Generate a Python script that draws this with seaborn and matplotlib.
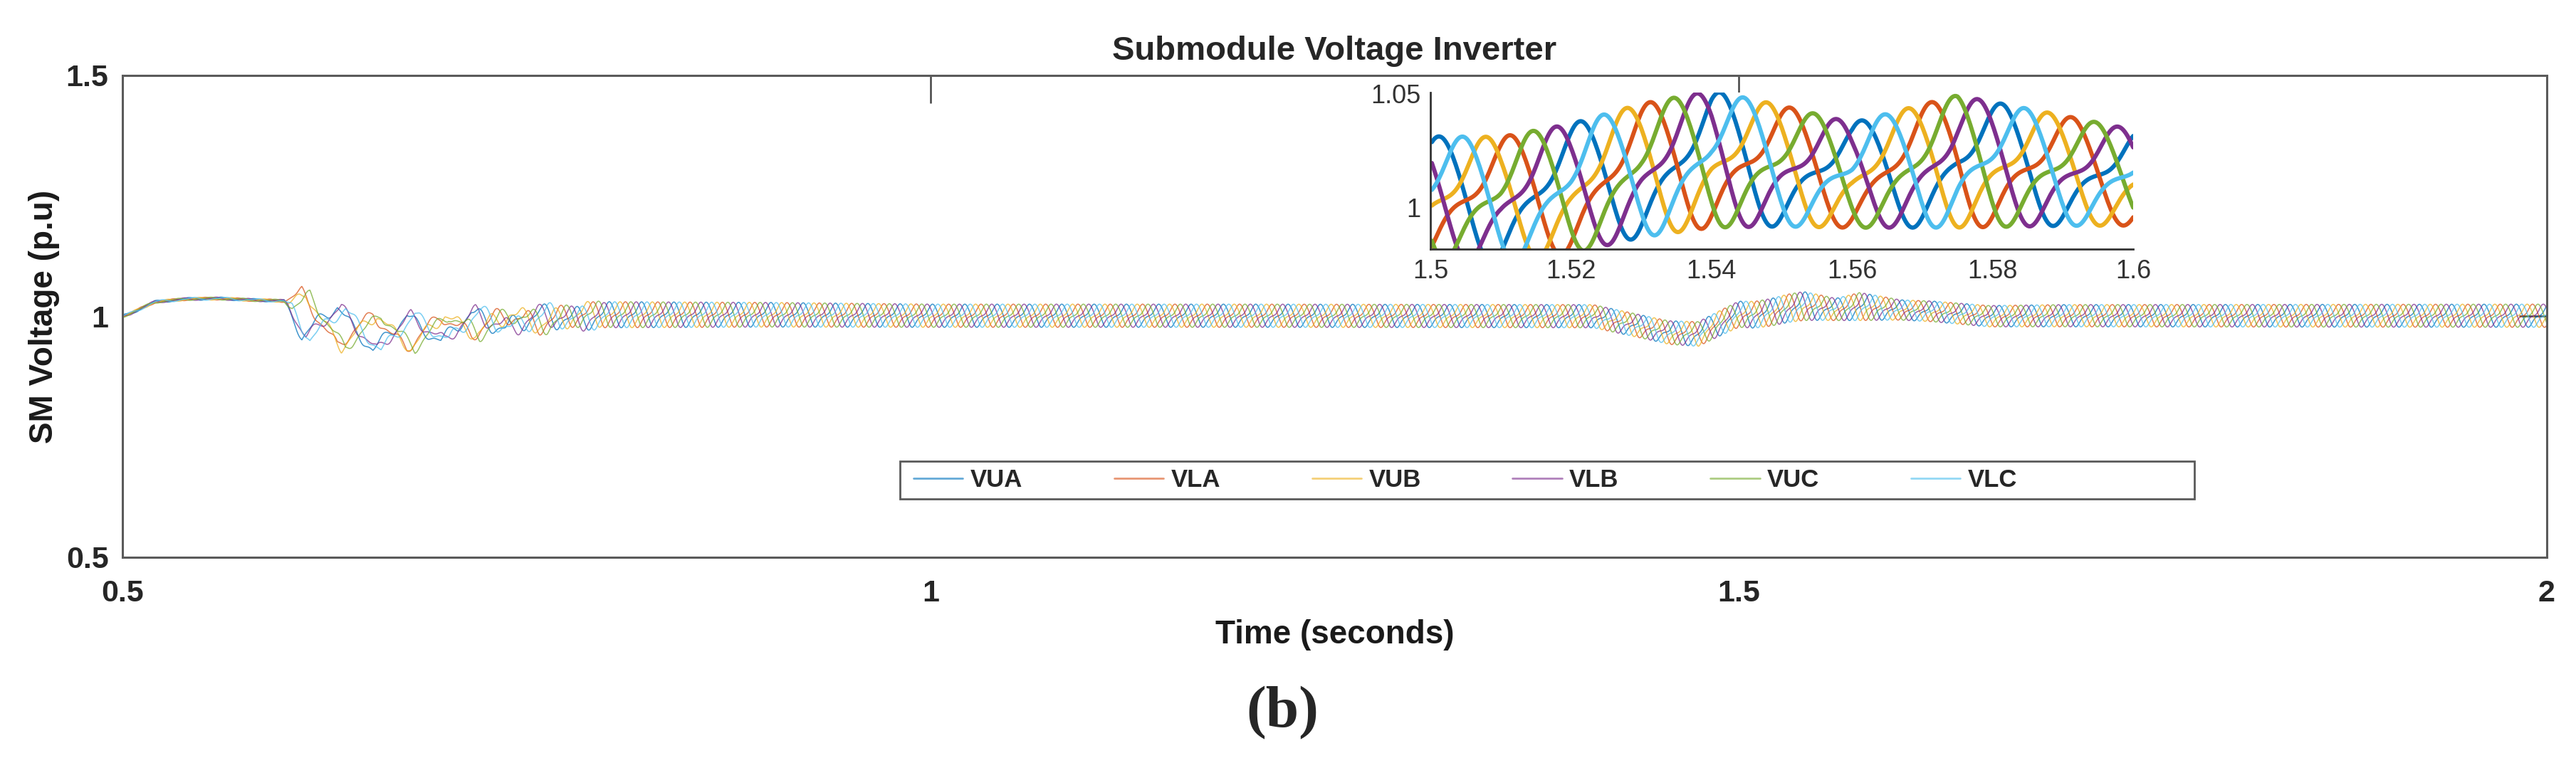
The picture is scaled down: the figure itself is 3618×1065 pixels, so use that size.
import numpy as np
import pandas as pd
import matplotlib

matplotlib.use("Agg")
import matplotlib.pyplot as plt
from matplotlib.patches import Rectangle
import seaborn as sns

# ----------------------------------------------------------------------
# Values
# ----------------------------------------------------------------------
SERIES = ["VUA", "VLA", "VUB", "VLB", "VUC", "VLC"]
COLORS = ["#0072BD", "#D95319", "#EDB120", "#7E2F8E", "#77AC30", "#4DBEEE"]

# lag of each arm's ripple peak behind VUA, in fractions of one cycle (inset)
PHASE_LAG = [0.0, 3 / 6, 2 / 6, 5 / 6, 4 / 6, 1 / 6]
RIPPLE_HZ = 50.0
FIRST_PEAK = 1.5015  # VUA ripple peak seen in the inset (s)

# one ripple cycle, normalised, 12 samples starting at the peak (inset, VUA)
CYCLE = [1.0, 0.7, 0.1, -0.55, -0.97, -0.85, -0.45, -0.15, -0.02, 0.1, 0.4, 0.85]

# mean SM voltage level (p.u.) at knot times (s)
MEAN_T = [0.50, 0.505, 0.52, 0.54, 0.56, 0.58, 0.60, 0.611, 0.635, 0.656,
          0.676, 0.697, 0.716, 0.75, 0.80, 0.90, 1.00, 1.20, 1.41, 1.435,
          1.457, 1.475, 1.49, 1.50, 1.51, 1.52, 1.53, 1.54, 1.55, 1.56,
          1.575, 1.59, 1.60, 1.62, 1.655, 1.70, 1.80, 2.00]
MEAN_V = [1.000, 1.006, 1.030, 1.036, 1.037, 1.034, 1.032, 1.004, 0.977, 0.966,
          0.967, 0.974, 0.985, 0.992, 1.003, 1.003, 1.001, 1.001, 1.000, 0.982,
          0.966, 0.963, 0.988, 1.004, 1.003, 1.008, 1.016, 1.021, 1.018, 1.014,
          1.020, 1.016, 1.013, 1.010, 1.000, 1.001, 1.001, 1.001]

# 50 Hz ripple half-amplitude (p.u.) at knot times (s)
AMP_T = [0.50, 0.60, 0.61, 0.70, 0.73, 0.78, 0.80, 1.00, 1.45, 1.50, 1.54,
         1.56, 1.575, 1.60, 1.70, 2.00]
AMP_V = [0.003, 0.003, 0.012, 0.013, 0.020, 0.026, 0.027, 0.024, 0.024, 0.027,
         0.030, 0.023, 0.029, 0.021, 0.023, 0.024]

# transient swing after the step at 0.6 s (upper/lower groups swing opposite)
SWING_T = [0.600, 0.611, 0.6215, 0.633, 0.6435, 0.655, 0.6655, 0.676, 0.6865,
           0.697, 0.7065, 0.716, 0.7265, 0.737, 0.748, 0.758, 0.769, 0.780, 0.800]
SWING_V = [0.0, 0.046, 0.0, -0.041, 0.0, 0.037, 0.0, -0.034, 0.0,
           0.026, 0.0, -0.022, 0.0, 0.016, 0.0, -0.010, 0.0, 0.005, 0.0]
SWING_SIGN = [-1, 1, 1, -1, 1, -1]
SWING_DELAY = [0.0, 0.0, 0.0025, 0.0025, 0.005, 0.005]

X_TICKS = [0.5, 1, 1.5, 2]
Y_TICKS = [0.5, 1, 1.5]
INSET_X_TICKS = [1.5, 1.52, 1.54, 1.56, 1.58, 1.6]
INSET_Y_TICKS = [1, 1.05]

FONT = "Liberation Sans"


def cycle_shape(phase, n_harm=4):
    # smooth periodic curve through the CYCLE samples
    c = np.asarray(CYCLE, dtype=float)
    F = np.fft.rfft(c) / len(c)
    out = np.full_like(phase, F[0].real)
    for k in range(1, n_harm + 1):
        out += 2 * (F[k] * np.exp(2j * np.pi * k * phase)).real
    return out


def build_frame():
    t = np.arange(0.5, 2.0 + 1e-9, 0.0002)
    mean = np.interp(t, MEAN_T, MEAN_V)
    amp = np.interp(t, AMP_T, AMP_V)
    frames = []
    for i, name in enumerate(SERIES):
        ph = np.mod((t - FIRST_PEAK) * RIPPLE_HZ - PHASE_LAG[i], 1.0)
        swing = SWING_SIGN[i] * np.interp(t - SWING_DELAY[i], SWING_T, SWING_V,
                                          left=0.0, right=0.0)
        v = mean + swing + amp * cycle_shape(ph)
        frames.append(pd.DataFrame({"t": t, "v": v, "series": name}))
    return pd.concat(frames, ignore_index=True)


def main():
    sns.set_theme(style="white")
    plt.rcParams["font.family"] = [FONT, "DejaVu Sans"]

    df = build_frame()
    palette = dict(zip(SERIES, COLORS))

    fig = plt.figure(figsize=(36.18, 10.65), dpi=100)
    ax = fig.add_axes([0.04754, 0.2648, 0.9411, 0.6357])

    sns.lineplot(data=df, x="t", y="v", hue="series", hue_order=SERIES,
                 palette=palette, estimator=None, sort=False, lw=1.1,
                 alpha=0.75, ax=ax)

    ax.set_xlim(0.5, 2)
    ax.set_ylim(0.5, 1.5)
    ax.set_xticks(X_TICKS)
    ax.set_xticklabels([f"{v:g}" for v in X_TICKS])
    ax.set_yticks(Y_TICKS)
    ax.set_yticklabels([f"{v:g}" for v in Y_TICKS])
    ax.tick_params(direction="in", length=28, width=1.8, color="#444444",
                   top=True, right=True, labelsize=31, pad=14)
    ax.tick_params(axis="x", pad=22)
    for lab in ax.get_xticklabels() + ax.get_yticklabels():
        lab.set_fontweight("bold")
    for s in ax.spines.values():
        s.set_color("#5a5a5a")
        s.set_linewidth(2.2)

    ax.set_title("Submodule Voltage Inverter", fontsize=34, fontweight="bold",
                 pad=16)
    ax.set_xlabel("Time (seconds)", fontsize=33, fontweight="bold",
                  labelpad=12, color="#1a1a1a")
    ax.set_ylabel("SM Voltage (p.u)", fontsize=33, fontweight="bold",
                  labelpad=6, color="#1a1a1a")

    # legend box (MATLAB leaves empty room after the last entry)
    box = Rectangle((0.3207, 0.121), 0.534, 0.078, transform=ax.transAxes,
                    facecolor="white", edgecolor="#5a5a5a", lw=2.0, zorder=4)
    ax.add_patch(box)
    handles, labels = ax.get_legend_handles_labels()
    leg = ax.legend(handles, labels, ncol=6, loc="center left",
                    bbox_to_anchor=(0.3263, 0.160), fontsize=25,
                    handlelength=2.0, handletextpad=0.3, columnspacing=3.7,
                    frameon=False, borderpad=0.0, borderaxespad=0.0)
    leg.set_zorder(5)
    for t in leg.get_texts():
        t.set_fontweight("bold")
    for h in leg.get_lines():
        h.set_linewidth(2.0)
        h.set_alpha(0.6)

    # zoomed inset 1.5 - 1.6 s
    ins = fig.add_axes([0.5553, 0.6714, 0.2728, 0.2066])
    sub = df[(df["t"] >= 1.5) & (df["t"] <= 1.6)]
    sns.lineplot(data=sub, x="t", y="v", hue="series", hue_order=SERIES,
                 palette=palette, estimator=None, sort=False, lw=4.3,
                 legend=False, ax=ins)
    ins.set_xlim(1.5, 1.6)
    ins.set_ylim(0.9819, 1.0506)
    ins.set_xticks(INSET_X_TICKS)
    ins.set_xticklabels([f"{v:g}" for v in INSET_X_TICKS])
    ins.set_yticks(INSET_Y_TICKS)
    ins.set_yticklabels([f"{v:g}" for v in INSET_Y_TICKS])
    ins.set_xlabel("")
    ins.set_ylabel("")
    ins.tick_params(direction="in", length=8, width=1.5, color="#333333",
                    labelsize=26, labelcolor="#333333", pad=10)
    ins.spines["top"].set_visible(False)
    ins.spines["right"].set_visible(False)
    for s in ("left", "bottom"):
        ins.spines[s].set_color("#333333")
        ins.spines[s].set_linewidth(2.0)

    fig.text(0.4978, 0.0592, "(b)", fontsize=60, fontweight="bold",
             family=["Liberation Serif", "DejaVu Serif"],
             ha="center", va="center")

    fig.savefig("out.png", dpi=100, facecolor="white")
    plt.close(fig)


if __name__ == "__main__":
    main()
